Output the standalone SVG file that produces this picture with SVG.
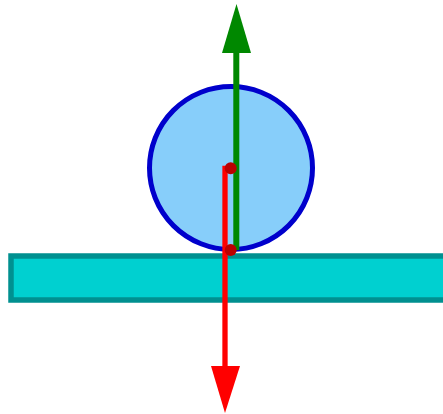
<svg xmlns="http://www.w3.org/2000/svg" width="443" height="414" viewBox="0 0 443 414">
<style>
.ground{fill:#00d0d0;stroke:#009090;stroke-width:5.5}
.ball{fill:#87cefa;stroke:#0000cc;stroke-width:5}
.dot{fill:#bb0000}
</style>
<rect width="443" height="414" fill="#ffffff"/>
<g id="ball"><circle class="ball" cx="231" cy="168" r="81.5"/></g>
<g id="ground"><rect class="ground" x="11" y="256" width="440" height="44"/></g>
<g id="connectors">
<line x1="236.3" y1="250" x2="236.3" y2="50" stroke="#008800" stroke-width="6"/>
<polygon points="236.5,4 222,53 251,53" fill="#008800"/>
<polyline points="231,168.5 225,168.5 225,370" fill="none" stroke="#ff0000" stroke-width="5.3"/>
<polygon points="211,366 240,366 225,413" fill="#ff0000"/>
</g>
<g id="points">
<circle class="dot" cx="230.7" cy="168.3" r="6"/>
<circle class="dot" cx="230.7" cy="250" r="6"/>
</g>
</svg>
